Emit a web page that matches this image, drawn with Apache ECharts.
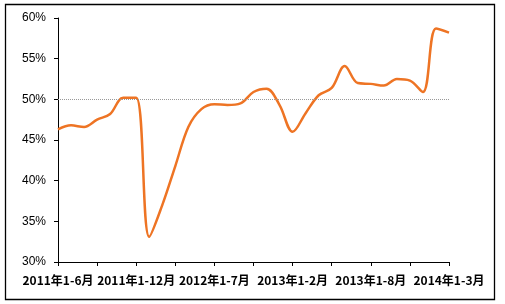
<!DOCTYPE html>
<html><head><meta charset="utf-8">
<script src="https://cdn.jsdelivr.net/npm/echarts@6/dist/echarts.min.js"></script>
<style>html,body{margin:0;padding:0;background:#fff}#c{width:505px;height:304px}</style>
</head><body><div id="c"></div>
<script>
var categories = [
 "2011年1-6月","2011年1-7月","2011年1-8月","2011年1-9月","2011年1-10月","2011年1-11月","2011年1-12月",
 "2012年1-2月","2012年1-3月","2012年1-4月","2012年1-5月","2012年1-6月","2012年1-7月","2012年1-8月","2012年1-9月","2012年1-10月","2012年1-11月","2012年1-12月",
 "2013年1-2月","2013年1-3月","2013年1-4月","2013年1-5月","2013年1-6月","2013年1-7月","2013年1-8月","2013年1-9月","2013年1-10月","2013年1-11月","2013年1-12月",
 "2014年1-2月","2014年1-3月"
];
var values = [46.3,46.8,46.6,47.5,48.2,50.2,50.2,33.1,37.0,41.8,46.6,48.8,49.4,49.3,49.5,50.9,51.3,49.3,46.0,48.3,50.5,51.4,54.1,52.0,51.9,51.7,52.5,52.3,50.9,58.7,58.2];
var referenceLine = 50;
var yMin = 30, yMax = 60, yStep = 5;

var chart = echarts.init(document.getElementById('c'), null, {renderer:'canvas'});
chart.setOption({
  animation:false,
  backgroundColor:'#fff',
  graphic:[{type:'rect',shape:{x:5.5,y:4.5,width:489,height:295},style:{fill:'none',stroke:'#000',lineWidth:1.3},silent:true}],
  grid:{left:58,right:56,top:18,bottom:42},
  xAxis:{type:'category',data:categories,boundaryGap:false,
    axisLine:{lineStyle:{color:'#000',width:1}},
    axisTick:{interval:2,length:4,inside:false,lineStyle:{color:'#000'}},
    axisLabel:{interval:5,color:'#000',fontFamily:'"Noto Sans CJK SC", sans-serif',fontWeight:'bold',fontSize:12,margin:12,showMaxLabel:true,showMinLabel:true},
    splitLine:{show:false}},
  yAxis:{type:'value',min:yMin,max:yMax,interval:yStep,
    axisLine:{show:true,lineStyle:{color:'#000',width:1}},
    axisTick:{show:true,length:4,lineStyle:{color:'#000'}},
    axisLabel:{color:'#000',fontFamily:'Arial, "Liberation Sans", sans-serif',fontSize:12,margin:12,formatter:function(v){return v+'%';}},
    splitLine:{show:false}},
  series:[{type:'line',data:values,smooth:0.35,showSymbol:false,symbol:'none',
    lineStyle:{color:'#EE7424',width:2.5},
    markLine:{silent:true,symbol:'none',label:{show:false},
      lineStyle:{color:'#999',type:'dotted',width:1},
      data:[{yAxis:referenceLine}]}}]
});
</script></body></html>
